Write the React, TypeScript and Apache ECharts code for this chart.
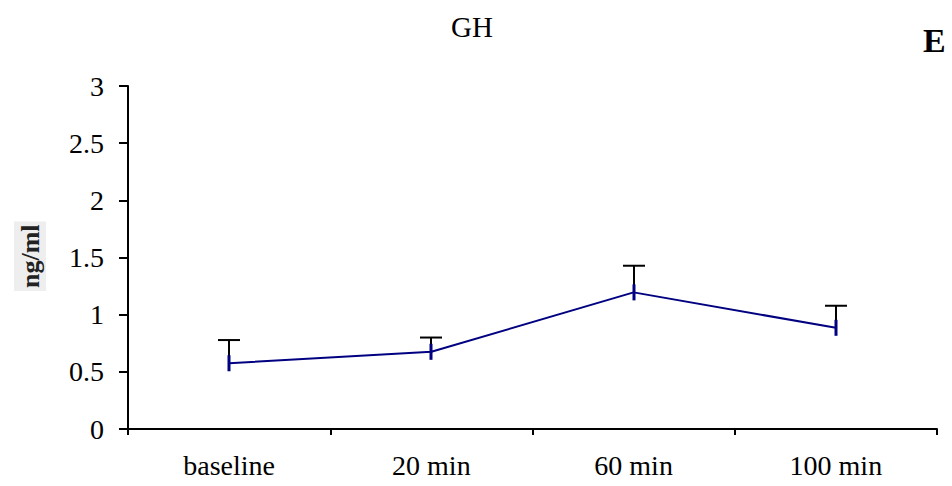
import React, { useEffect, useRef } from "react";
import * as echarts from "echarts";

const categories = ["baseline", "20 min", "60 min", "100 min"];
const means = [0.575, 0.675, 1.195, 0.885];
const upper = [0.778, 0.8, 1.428, 1.078];
const yTicks = { min: 0, max: 3, interval: 0.5 };

const FONT = "'Liberation Serif', 'Times New Roman', serif";

export default function App() {
  const ref = useRef<HTMLDivElement>(null);
  useEffect(() => {
    if (!ref.current) return;
    const chart = echarts.init(ref.current, undefined, { renderer: "svg" });
    const errData = categories.map((_, i) => [i, means[i], upper[i]]);
    chart.setOption({
      animation: false,
      backgroundColor: "#ffffff",
      grid: { left: 128, right: 15, top: 86, bottom: 57, containLabel: false },
      graphic: [
        {
          type: "text",
          x: 472,
          y: 27,
          style: { text: "GH", font: `29px ${FONT}`, fill: "#000", align: "center", verticalAlign: "middle" },
        },
        {
          type: "text",
          x: 923,
          y: 40,
          style: { text: "E", font: `bold 34px ${FONT}`, fill: "#000", align: "left", verticalAlign: "middle" },
        },
        {
          type: "text",
          x: 14,
          y: 291,
          rotation: Math.PI / 2,
          style: {
            text: "ng/ml",
            font: `bold 26px ${FONT}`,
            fill: "#222",
            backgroundColor: "#eeeeee",
            padding: [3, 3],
            align: "left",
            verticalAlign: "top",
          },
        },
      ],
      xAxis: {
        type: "category",
        data: categories,
        boundaryGap: true,
        axisLine: { lineStyle: { color: "#000", width: 2 } },
        axisTick: { show: true, interval: 0, length: 6, lineStyle: { color: "#000", width: 2 } },
        axisLabel: { color: "#000", fontFamily: FONT, fontSize: 28, margin: 22, interval: 0 },
        splitLine: { show: false },
      },
      yAxis: {
        type: "value",
        min: yTicks.min,
        max: yTicks.max,
        interval: yTicks.interval,
        axisLine: { show: true, lineStyle: { color: "#000", width: 2 } },
        axisTick: { show: true, length: 9, lineStyle: { color: "#000", width: 2 } },
        axisLabel: { color: "#000", fontFamily: FONT, fontSize: 28, margin: 24 },
        splitLine: { show: false },
      },
      series: [
        {
          type: "line",
          data: means,
          symbol: "none",
          lineStyle: { color: "#000080", width: 2 },
          z: 2,
        },
        {
          type: "custom",
          data: errData,
          z: 3,
          renderItem: (params: any, api: any) => {
            const p = api.coord([api.value(0), api.value(1)]);
            const u = api.coord([api.value(0), api.value(2)]);
            const x = Math.round(p[0]);
            return {
              type: "group",
              children: [
                {
                  type: "line",
                  shape: { x1: x, y1: p[1], x2: x, y2: u[1] },
                  style: { stroke: "#000", lineWidth: 2 },
                },
                {
                  type: "line",
                  shape: { x1: x - 11, y1: u[1], x2: x + 11, y2: u[1] },
                  style: { stroke: "#000", lineWidth: 2 },
                },
                {
                  type: "line",
                  shape: { x1: x, y1: p[1] - 8, x2: x, y2: p[1] + 8 },
                  style: { stroke: "#000080", lineWidth: 3 },
                },
              ],
            };
          },
        },
      ],
    });
    return () => chart.dispose();
  }, []);
  return (
    <div
      ref={ref}
      style={{ position: "fixed", left: 0, top: 0, width: 952, height: 486, background: "#fff" }}
    />
  );
}
